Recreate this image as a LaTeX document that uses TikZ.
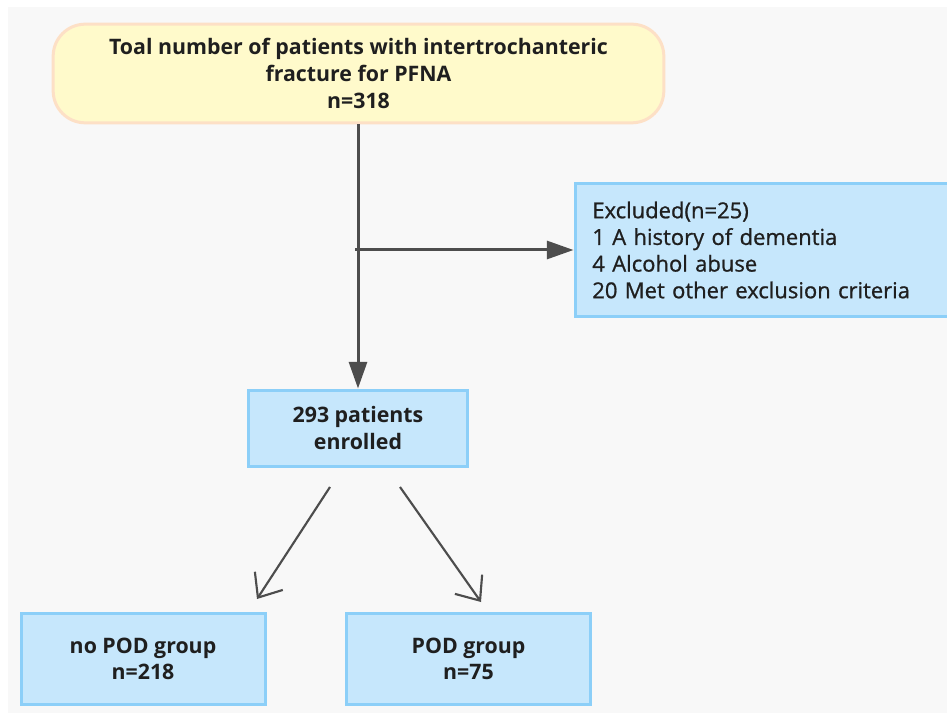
\documentclass[tikz,border=0pt]{standalone}
\usepackage{fontspec}
\setmainfont{Open Sans}
\newfontfamily\exclfont{Open Sans}[FakeBold=0.9]
\usepackage{tikz}
\usepackage{xcolor}
\usetikzlibrary{arrows,arrows.meta,calc,positioning,shapes}
\definecolor{startfill}{HTML}{FFFACB}
\definecolor{startline}{HTML}{FDE0C6}
\definecolor{boxfill}{HTML}{C6E7FC}
\definecolor{boxline}{HTML}{8CCFF8}
\definecolor{linegray}{HTML}{4D4D4D}
\definecolor{backgray}{HTML}{F8F8F8}
\tikzset{%
	startstop/.style = {draw=startline, fill=startfill, line width=2.25pt, rectangle, rounded corners=24pt, minimum width=458pt, minimum height=74pt, text centered, align=center, font=\fontsize{16}{20.5}\selectfont\bfseries},
	process/.style   = {draw=boxline, fill=boxfill, line width=2.25pt, rectangle, minimum width=183pt, minimum height=68pt, text centered, align=center, font=\fontsize{16}{20}\selectfont\bfseries},
	exclbox/.style   = {draw=boxline, fill=boxfill, line width=2.25pt, rectangle, minimum height=100pt, inner xsep=13pt, text width=285pt, align=left, font=\fontsize{16.5}{20}\selectfont\exclfont},
	arrow/.style     = {line width=2.25pt, draw=linegray, -{Triangle[length=20pt,width=13.5pt]}},
	openarrow/.style = {line width=1.6pt, draw=linegray, -{Straight Barb[length=15pt,width=25pt]}},
}
\begin{document}
\begin{tikzpicture}[x=0.75pt,y=-0.75pt,text=black!88]
	\useasboundingbox (0,0) rectangle (947,713);
	\fill[backgray] (8,7) rectangle (947,713);  % page background
	\node[startstop] (start) at (358.5,73.5) {Toal number of patients with intertrochanteric\\fracture for PFNA\\n=318};
	\node[exclbox,anchor=west] (excl) at (573.5,250) {Excluded(n=25)\\1 A history of dementia\\4 Alcohol abuse\\20 Met other exclusion criteria};
	\node[process,minimum width=164pt,minimum height=57pt] (enrolled) at (358,428) {293 patients\\enrolled};
	\node[process] (nopod) at (143,659) {no POD group\\n=218};
	\node[process] (pod) at (468.5,659) {POD group\\n=75};
	\coordinate (split) at (355,250);
	\coordinate (leftfrom) at (330,487);
	\coordinate (leftto) at (257,599);
	\coordinate (rightfrom) at (400,487);
	\coordinate (rightto) at (481,602);
	\draw[arrow] (start.south -| enrolled.north) -- (enrolled.north);
	\draw[arrow] (split) -- (excl.west);
	\draw[openarrow] (leftfrom) -- (leftto);
	\draw[openarrow] (rightfrom) -- (rightto);
\end{tikzpicture}
\end{document}
